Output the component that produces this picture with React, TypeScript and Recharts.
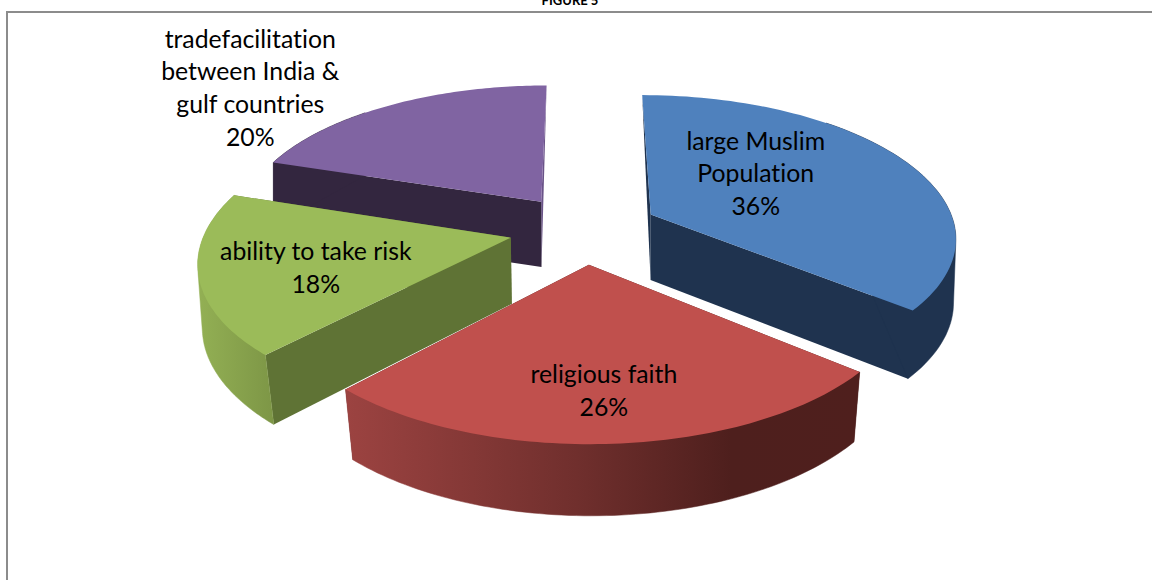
import React from 'react';
import { PieChart, Pie, Cell } from 'recharts';

// Slices are listed back to front so the nearer ones paint on top
const CATEGORIES = [
  'tradefacilitation between India & gulf countries',
  'ability to take risk',
  'religious faith',
  'large Muslim Population',
];
const SHARES = [20, 18, 26, 36];
const LABEL_LINES = [
  ['tradefacilitation', 'between India &', 'gulf countries'],
  ['ability to take risk'],
  ['religious faith'],
  ['large Muslim', 'Population'],
];

const TOP_COLORS = ['#8064a2', '#9bbb59', '#c0504d', '#4f81bd'];
const START_FACE = ['#6a5388', '#5f7335', '#4c1e1c', '#1f334f'];
const END_FACE = ['#33263f', '#5f7335', '#4c1e1c', '#1f334f'];
const ARC_FILL = ['#33263f', 'url(#greenWall)', 'url(#redWall)', '#1f334f'];
// label centre relative to the slice tip
const LABEL_SHIFT = [
  [-291, -113],
  [-195, 31],
  [15, 127],
  [105, -40],
];

// 3D look of the pie: tilt, perspective, explosion and thickness
const TILT = 141 / 305;
const PERSPECTIVE = 0.148;
const EXPLODE = 0.2455;
const DEPTH = 66;
const VANISH_SHIFT = 47;
const FLOOR_SHRINK = 0.025;

const CX = 584;
const CY = 229;
const RADIUS = 305;

const chartData = CATEGORIES.map((name, i) => ({ name, value: SHARES[i] }));

const rad = (deg: number) => (deg * Math.PI) / 180;

// plane coordinates are in radius units, y pointing away from the viewer
const project = (x: number, y: number, floor: boolean, r: number, cx: number, cy: number) => {
  const s = 1 / (1 + PERSPECTIVE * y);
  const px = cx + x * r * s;
  const py = cy - y * r * TILT * s;
  if (!floor) return [px, py];
  const vx = cx + VANISH_SHIFT;
  const shrink = FLOOR_SHRINK * Math.min(1, Math.max(0, (s - 0.95) / 0.2));
  return [vx + (px - vx) * (1 - shrink), py + DEPTH * Math.pow(s, 0.4)];
};

const toPath = (pts: number[][]) =>
  pts.map((p, i) => `${i ? 'L' : 'M'}${p[0].toFixed(1)},${p[1].toFixed(1)}`).join(' ') + ' Z';

// monotone chain hull, keeps the rim wall free of notches at the silhouette
const convexHull = (input: number[][]) => {
  const pts = input.slice().sort((a, b) => a[0] - b[0] || a[1] - b[1]);
  const cross = (o: number[], a: number[], b: number[]) =>
    (a[0] - o[0]) * (b[1] - o[1]) - (a[1] - o[1]) * (b[0] - o[0]);
  const half = (list: number[][]) => {
    const out: number[][] = [];
    for (const p of list) {
      while (out.length >= 2 && cross(out[out.length - 2], out[out.length - 1], p) <= 0) out.pop();
      out.push(p);
    }
    out.pop();
    return out;
  };
  return [...half(pts), ...half(pts.slice().reverse())];
};

const Slice3D = (props: any) => {
  const { cx, cy, outerRadius, startAngle, endAngle, midAngle, name } = props;
  const idx = CATEGORIES.indexOf(name);
  const ox = EXPLODE * Math.cos(rad(midAngle));
  const oy = EXPLODE * Math.sin(rad(midAngle));
  const pt = (deg: number, floor: boolean) =>
    project(ox + Math.cos(rad(deg)), oy + Math.sin(rad(deg)), floor, outerRadius, cx, cy);

  const steps = 80;
  const angles: number[] = [];
  for (let i = 0; i <= steps; i++) angles.push(startAngle + ((endAngle - startAngle) * i) / steps);
  const topArc = angles.map((a) => pt(a, false));
  // only the part of the rim turned towards the viewer gets a wall
  const rimAngles = angles.filter((a) => Math.sin(rad(a)) < 0.75);
  const rim = convexHull([...rimAngles.map((a) => pt(a, false)), ...rimAngles.map((a) => pt(a, true))]);

  const tipTop = project(ox, oy, false, outerRadius, cx, cy);
  const tipFloor = project(ox, oy, true, outerRadius, cx, cy);

  // a cut edge running straight back narrows to a sliver towards the tip
  const face = (deg: number, edge: number[]) =>
    Math.sin(rad(deg)) > 0.9
      ? [tipTop, edge, tipFloor]
      : [tipTop, edge, pt(deg, true), tipFloor];

  return (
    <g>
      <path d={toPath(face(startAngle, topArc[0]))} fill={START_FACE[idx]} />
      <path d={toPath(face(endAngle, topArc[steps]))} fill={END_FACE[idx]} />
      <path d={toPath(rim)} fill={ARC_FILL[idx]} stroke={ARC_FILL[idx]} strokeWidth={0.5} />
      <path d={toPath([tipTop, ...topArc])} fill={TOP_COLORS[idx]} />
    </g>
  );
};

const SliceLabel = (props: any) => {
  const { cx, cy, outerRadius, midAngle, name, value } = props;
  const idx = CATEGORIES.indexOf(name);
  const [tx, ty] = project(
    EXPLODE * Math.cos(rad(midAngle)),
    EXPLODE * Math.sin(rad(midAngle)),
    false,
    outerRadius,
    cx,
    cy,
  );
  const lines = [...LABEL_LINES[idx], `${value}%`];
  const lineHeight = 32.7;
  const x = tx + LABEL_SHIFT[idx][0];
  const top = ty + LABEL_SHIFT[idx][1] - ((lines.length - 1) * lineHeight) / 2;
  return (
    <text
      x={x}
      textAnchor="middle"
      fontFamily="Lato"
      fontSize={24.8}
      fill="#000"
      style={{ fontVariantLigatures: 'none' }}
    >
      {lines.map((line, i) => (
        <tspan key={line} x={x} y={top + i * lineHeight + 8}>
          {line}
        </tspan>
      ))}
    </text>
  );
};

export default function App() {
  return (
    <div style={{ position: 'absolute', left: 0, top: 0, width: 1152, height: 580, overflow: 'hidden', background: '#fff' }}>
      <div
        style={{
          position: 'absolute',
          left: 6,
          top: 11,
          width: 1200,
          height: 600,
          borderLeft: '2px solid #8c8c8c',
          borderTop: '2px solid #8c8c8c',
        }}
      />
      <div
        style={{
          position: 'absolute',
          left: 470,
          width: 200,
          top: -8,
          textAlign: 'center',
          fontFamily: 'Lato',
          fontWeight: 700,
          fontSize: 13,
          lineHeight: '16px',
          color: '#000',
        }}
      >
        FIGURE 5
      </div>
      <PieChart
        width={1152}
        height={580}
        margin={{ top: 0, right: 0, bottom: 0, left: 0 }}
        style={{ position: 'absolute', left: 0, top: 0 }}
      >
        <defs>
          <linearGradient id="redWall" x1="0" y1="0" x2="1" y2="0">
            <stop offset="0%" stopColor="#9c4341" />
            <stop offset="45%" stopColor="#702f2d" />
            <stop offset="75%" stopColor="#4e1f1d" />
            <stop offset="100%" stopColor="#4f1f1d" />
          </linearGradient>
          <linearGradient id="greenWall" x1="0" y1="0" x2="1" y2="0">
            <stop offset="0%" stopColor="#93b054" />
            <stop offset="100%" stopColor="#7d9646" />
          </linearGradient>
        </defs>
        <Pie
          data={chartData}
          dataKey="value"
          nameKey="name"
          cx={CX}
          cy={CY}
          outerRadius={RADIUS}
          startAngle={90}
          endAngle={450}
          stroke="none"
          shape={Slice3D}
          label={SliceLabel}
          labelLine={false}
          isAnimationActive={false}
        >
          {chartData.map((d, i) => (
            <Cell key={d.name} fill={TOP_COLORS[i]} />
          ))}
        </Pie>
      </PieChart>
    </div>
  );
}
